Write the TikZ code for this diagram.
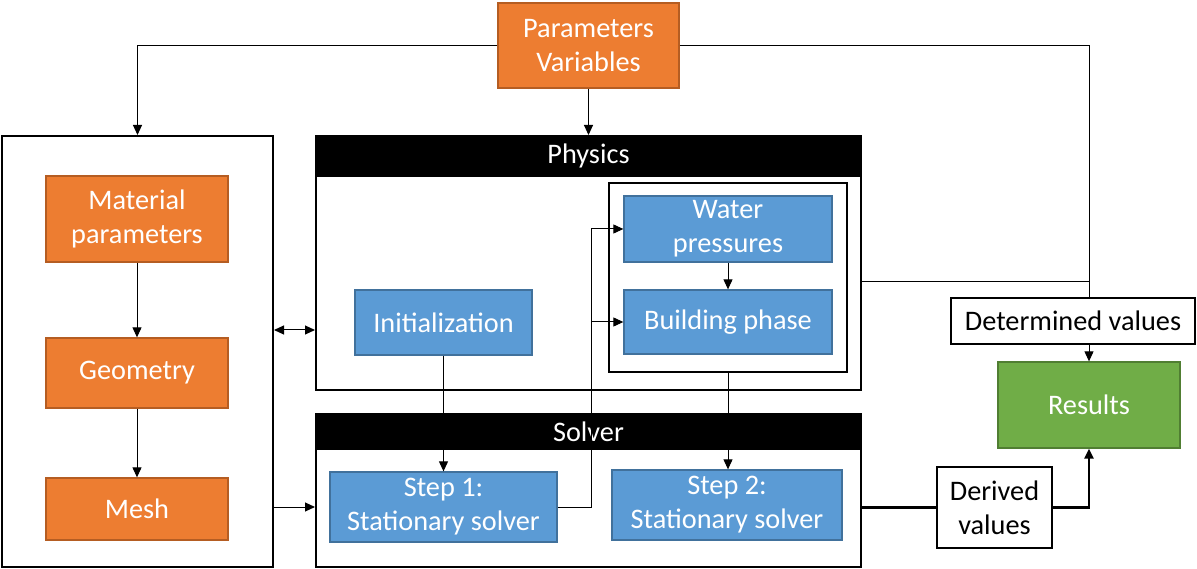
\documentclass[tikz,border=0pt]{standalone}
\usepackage{fontspec}
\setmainfont{Carlito}
\usetikzlibrary{arrows.meta,calc}

\definecolor{orfill}{HTML}{ED7D31}
\definecolor{ordraw}{HTML}{B55D22}
\definecolor{blfill}{HTML}{5B9BD5}
\definecolor{bldraw}{HTML}{41719C}
\definecolor{grfill}{HTML}{70AD47}
\definecolor{grdraw}{HTML}{507E32}

\tikzset{
  box/.style={rectangle, inner sep=0pt, align=center,
    font=\fontsize{28.3}{34}\selectfont},
  orangebox/.style={box, fill=orfill, draw=ordraw, line width=1.3pt, text=white},
  bluebox/.style={box, fill=blfill, draw=bldraw, line width=1.3pt, text=white},
  greenbox/.style={box, fill=grfill, draw=grdraw, line width=1.3pt, text=white},
  whitebox/.style={box, fill=white, draw=black, line width=1.4pt, text=black},
  frame/.style={rectangle, inner sep=0pt, draw=black, line width=2pt},
  header/.style={box, fill=black, draw=black, line width=2pt, text=white},
  conn/.style={draw=black, line width=1pt},
  arr/.style={conn, -{Triangle[length=10pt,width=9pt]}},
  thickarr/.style={draw=black, line width=2.4pt, -{Triangle[length=10pt,width=9pt]}},
}

\begin{document}
\begin{tikzpicture}[x=1pt, y=-1pt]
\useasboundingbox (0,0) rectangle (1197,569);

% Outer frames
\node[frame, minimum width=271, minimum height=431] (L) at (137.5,351.5) {};
\node[frame, minimum width=545, minimum height=254] (Phys) at (588.5,263) {};
\node[header, minimum width=545, minimum height=40, anchor=north] (PhysH) at (Phys.north) {Physics};
\node[frame, minimum width=545, minimum height=153] (Sol) at (588.5,490.5) {};
\node[header, minimum width=545, minimum height=35, anchor=north] (SolH) at (Sol.north) {Solver};
\node[frame, minimum width=238, minimum height=189] (Inner) at (728,277.5) {};

% Input
\node[orangebox, minimum width=181, minimum height=85] (PV) at (588.5,45.5) {Parameters\\Variables};

% Model definition
\node[orangebox, minimum width=182, minimum height=86] (Mat) at (137,219) {Material\\parameters};
\node[orangebox, minimum width=182, minimum height=70] (Geo) at (137,373) {Geometry};
\node[orangebox, minimum width=182, minimum height=62] (Mesh) at (137,509) {Mesh};

% Physics
\node[bluebox, minimum width=177, minimum height=65] (Init) at (443.5,322.5) {Initialization};
\node[bluebox, minimum width=208, minimum height=66] (Water) at (728,229) {Water\\pressures};
\node[bluebox, minimum width=208, minimum height=64] (Build) at (728,322) {Building phase};

% Solver
\node[bluebox, minimum width=227, minimum height=70] (Step1) at (443.5,507) {Step 1:\\Stationary solver};
\node[bluebox, minimum width=230, minimum height=70] (Step2) at (727,505) {Step 2:\\Stationary solver};

% Output
\node[whitebox, minimum width=244, minimum height=46] (Det) at (1073,321) {Determined values};
\node[greenbox, minimum width=182, minimum height=86] (Res) at (1089,405) {Results};
\node[whitebox, minimum width=115, minimum height=81] (Der) at (994.5,507.5) {Derived\\values};

% Connectors from the parameters
\draw[arr] (PV.west) -| (L.north);
\draw[arr] (PV.south) -- (PhysH.north);
\draw[conn] (PV.east) -| (Res.north |- Det.north);
\draw[conn] (Phys.east |- 0,282) -| (Res.north |- Det.north);
\draw[arr] (Res.north |- Det.south) -- (Res.north);

% Model chain
\draw[arr] (Mat.south) -- (Geo.north);
\draw[arr] (Geo.south) -- (Mesh.north);
\draw[{Triangle[length=10pt,width=9pt]}-{Triangle[length=10pt,width=9pt]}, conn]
  (L.east |- 0,330) -- (Phys.west |- 0,330);
\draw[arr] (L.east |- Step1.east) -- (Sol.west |- Step1.east);

% Physics to solver
\draw[arr] (Water.south) -- (Build.north);
\draw[arr] (Init.south) -- (Step1.north);
\draw[arr] (Inner.south) -- (Inner.south |- Step2.north);
\coordinate (fork) at ($(Step1.east)+(34,0)$);
\draw[conn] (Step1.east) -- (fork);
\draw[arr] (fork) |- (Water.west);
\draw[arr] (fork) |- (Build.west);

% Results
\draw[draw=black, line width=2.4pt] (Sol.east |- Der.west) -- (Der.west);
\draw[thickarr] (Der.east) -| (Res.south);
\end{tikzpicture}
\end{document}
